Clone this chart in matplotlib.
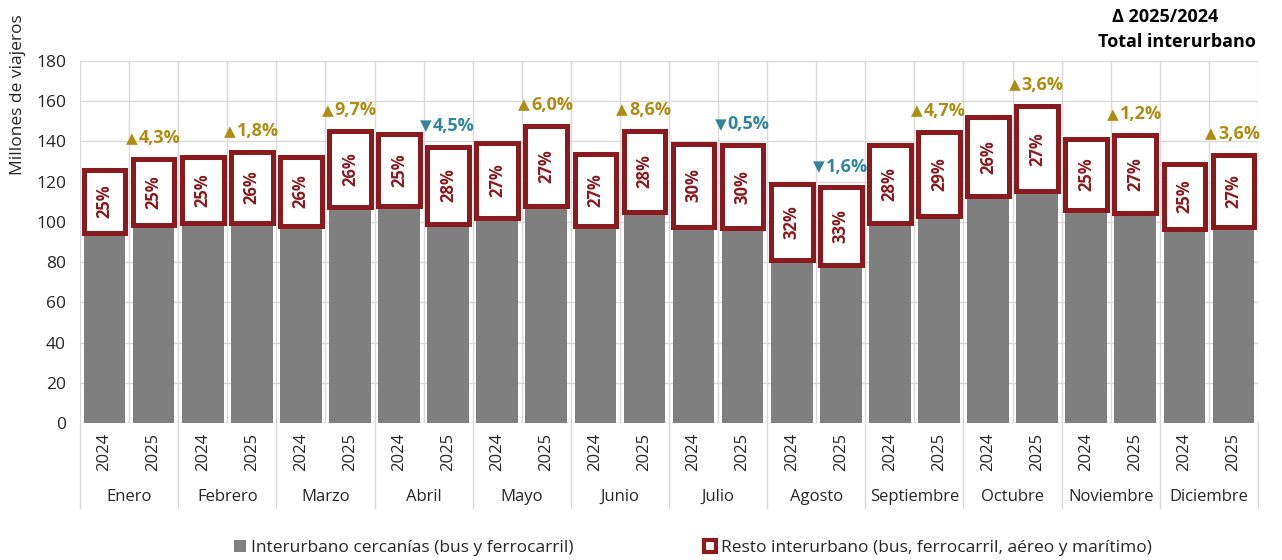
import numpy as np
import matplotlib
matplotlib.use('Agg')
import matplotlib.pyplot as plt
from matplotlib.patches import Patch

plt.rcParams['font.family'] = ['Open Sans', 'DejaVu Sans']

meses = ['Enero', 'Febrero', 'Marzo', 'Abril', 'Mayo', 'Junio', 'Julio',
         'Agosto', 'Septiembre', 'Octubre', 'Noviembre', 'Diciembre']
anios = ['2024', '2025']

# total interurbano (millones de viajeros)
total_2024 = [125.8, 132.3, 132.3, 143.9, 139.4, 133.9, 138.9, 119.0, 138.4, 152.2, 141.4, 128.9]
total_2025 = [131.2, 134.7, 145.1, 137.4, 147.8, 145.4, 138.2, 117.1, 144.9, 157.7, 143.1, 133.5]

# peso del resto interurbano sobre el total (%)
resto_pct_2024 = [25, 25, 26, 25, 27, 27, 30, 32, 28, 26, 25, 25]
resto_pct_2025 = [25, 26, 26, 28, 27, 28, 30, 33, 29, 27, 27, 27]

# variacion 2025/2024 del total interurbano (%)
variacion = [4.3, 1.8, 9.7, -4.5, 6.0, 8.6, -0.5, -1.6, 4.7, 3.6, 1.2, 3.6]

GRIS = '#7f7f7f'
GRANATE = '#8b1a1f'
ORO = '#b08d12'
AZUL = '#31859c'
REJILLA = '#d9d9d9'
TEXTO = '#262626'

# intercalar 2024 / 2025 por mes
total = np.ravel(np.column_stack([total_2024, total_2025]))
pct = np.ravel(np.column_stack([resto_pct_2024, resto_pct_2025]))
resto = total * pct / 100
cercanias = total - resto
x = np.arange(len(total))

fig = plt.figure(figsize=(12.82, 5.6), dpi=100)
ax = fig.add_axes([80 / 1282, 1 - 423 / 560, 1178 / 1282, 362 / 560])

ax.bar(x, cercanias, width=0.85, color=GRIS, zorder=2)
ax.bar(x, resto, bottom=cercanias, width=0.85, color='white',
       edgecolor=GRANATE, linewidth=3.6, zorder=3)

for xi, c, r, p in zip(x, cercanias, resto, pct):
    ax.text(xi, c + r / 2, f'{p:d}%', rotation=90, ha='center', va='center',
            fontsize=12, fontweight='bold', color=GRANATE, zorder=4)

# variaciones sobre la barra de 2025
for i, v in enumerate(variacion):
    xi = 2 * i + 1
    simbolo = '▲' if v >= 0 else '▼'
    color = ORO if v >= 0 else AZUL
    etiqueta = f'{abs(v):.1f}%'.replace('.', ',')
    ax.annotate(simbolo, (xi, total[xi]), xytext=(-16, 15), textcoords='offset points',
                ha='center', va='center', fontsize=11, color=color,
                family=['DejaVu Sans'], zorder=5)
    ax.annotate(etiqueta, (xi, total[xi]), xytext=(-11, 15), textcoords='offset points',
                ha='left', va='center', fontsize=13, fontweight='bold', color=color, zorder=5)

ax.set_xlim(-0.5, len(total) - 0.5)
ax.set_ylim(0, 180)
ax.set_yticks(np.arange(0, 181, 20))
ax.tick_params(axis='y', length=0, labelsize=12.5, labelcolor=TEXTO, pad=10)
ax.set_xticks(x)
ax.set_xticklabels(anios * len(meses), rotation=90, fontsize=12, color=TEXTO)
ax.tick_params(axis='x', length=0, pad=7)
ax.set_xticks(np.arange(-0.5, len(total), 1), minor=True)
ax.tick_params(axis='x', which='minor', length=0)
ax.grid(axis='y', color=REJILLA, linewidth=1, zorder=0)
ax.grid(axis='x', which='minor', color=REJILLA, linewidth=1, zorder=0)
ax.set_axisbelow(True)
for s in ax.spines.values():
    s.set_visible(False)
ax.axhline(0, color=REJILLA, linewidth=1, zorder=1)

# separadores de mes y nombres bajo el eje
trans = ax.get_xaxis_transform()
for b in np.arange(-0.5, len(total), 2):
    ax.plot([b, b], [0, -0.235], transform=trans, color=REJILLA, linewidth=1, clip_on=False)
for i, m in enumerate(meses):
    ax.text(2 * i + 0.5, -0.205, m, transform=trans, ha='center', va='center',
            fontsize=12, color=TEXTO)

fig.text(18 / 1282, 1 - 95 / 560, 'Millones de viajeros', rotation=90,
         ha='center', va='center', fontsize=12.5, color=TEXTO)
fig.text(1165 / 1282, 1 - 17 / 560, 'Δ 2025/2024', ha='center', va='center',
         fontsize=13, fontweight='bold', color='black')
fig.text(1177 / 1282, 1 - 42 / 560, 'Total interurbano', ha='center', va='center',
         fontsize=13, fontweight='bold', color='black')

handles = [Patch(facecolor=GRIS, edgecolor='none'),
           Patch(facecolor='white', edgecolor=GRANATE, linewidth=3)]
fig.legend(handles, ['Interurbano cercanías (bus y ferrocarril)',
                     'Resto interurbano (bus, ferrocarril, aéreo y marítimo)'],
           loc='center', bbox_to_anchor=(693 / 1282, 1 - 548 / 560), ncol=2,
           frameon=False, fontsize=12.5, handlelength=0.7, handleheight=0.7,
           handletextpad=0.3, columnspacing=7.5, labelcolor=TEXTO)

fig.savefig('out.png', dpi=100)
